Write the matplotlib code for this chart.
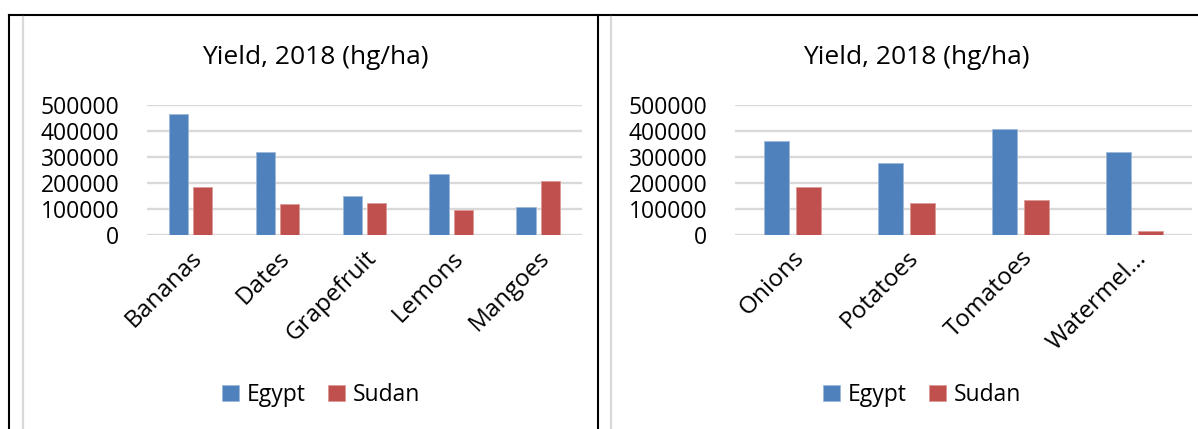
import numpy as np
import matplotlib.pyplot as plt
from matplotlib.lines import Line2D

plt.rcParams['font.family'] = ['Open Sans', 'DejaVu Sans']

fruits = ['Bananas', 'Dates', 'Grapefruit', 'Lemons', 'Mangoes']
fruit_egypt = [464000, 318000, 149000, 235000, 108000]
fruit_sudan = [186000, 119000, 122000, 97000, 208000]

veg = ['Onions', 'Potatoes', 'Tomatoes', 'Watermel...']
veg_egypt = [362000, 277000, 408000, 321000]
veg_sudan = [186000, 124000, 135000, 15000]

yticks = [0, 100000, 200000, 300000, 400000, 500000]
blue = '#4F81BD'
red = '#C0504D'
grid = '#D9D9D9'

W, H = 1198, 429
fig = plt.figure(figsize=(W / 100, H / 100), dpi=100)


def px(x0, y0, x1, y1):
    # pixel box (top-left origin) -> figure fraction rect
    return [x0 / W, 1 - y1 / H, (x1 - x0) / W, (y1 - y0) / H]


def panel(rect, cats, egypt, sudan, title_x, legend_x):
    ax = fig.add_axes(rect)
    x = np.arange(len(cats))
    ax.bar(x - 0.14, egypt, 0.22, color=blue, edgecolor='#9db8da', linewidth=0.6, label='Egypt', zorder=3)
    ax.bar(x + 0.14, sudan, 0.22, color=red, edgecolor='#dc9a98', linewidth=0.6, label='Sudan', zorder=3)
    ax.set_xlim(-0.5, len(cats) - 0.5)
    ax.set_ylim(0, 500000)
    ax.set_yticks(yticks)
    ax.set_yticklabels([str(v) for v in yticks])
    ax.yaxis.grid(True, color=grid, linewidth=1.7, zorder=0)
    ax.set_axisbelow(True)
    for s in ax.spines.values():
        s.set_visible(False)
    ax.set_xticks(x)
    ax.set_xticklabels(cats, rotation=45, ha='right', rotation_mode='anchor')
    ax.tick_params(axis='both', length=0, labelsize=16.5, colors='black')
    ax.tick_params(axis='x', labelsize=17.5, pad=8)
    ax.tick_params(axis='y', pad=20)
    fig.text(title_x / W, 1 - 57 / H, 'Yield, 2018 (hg/ha)', fontsize=19,
             ha='center', va='center')
    ax.legend(loc='center', bbox_to_anchor=(legend_x / W, 1 - 395 / H),
              bbox_transform=fig.transFigure, ncol=2, frameon=False,
              fontsize=16.5, handlelength=0.75, handleheight=0.75,
              handletextpad=0.35, columnspacing=0.95)
    return ax


panel(px(147, 105, 581.6, 235), fruits, fruit_egypt, fruit_sudan, 315, 321)
panel(px(735, 105, 1192, 235), veg, veg_egypt, veg_sudan, 916, 922)

# table borders around the two charts
for xs, ys, c in [([9, W], [15, 15], 'black'),
                  ([9, 9], [15, H], 'black'),
                  ([598, 598], [15, H], 'black'),
                  ([23, 23], [17, H], grid),
                  ([611, 611], [17, H], grid)]:
    fig.add_artist(Line2D([v / W for v in xs], [1 - v / H for v in ys],
                          color=c, linewidth=1.5 if c == 'black' else 1.6))

fig.savefig('out.png', dpi=100)
